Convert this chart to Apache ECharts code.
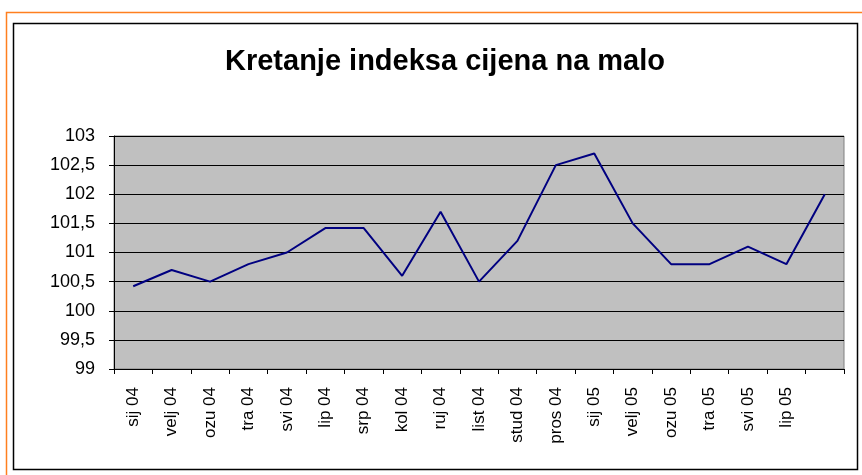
<!DOCTYPE html>
<html>
<head>
<meta charset="utf-8">
<script src="https://cdn.jsdelivr.net/npm/echarts@6/dist/echarts.min.js"></script>
<style>
  html, body { margin: 0; padding: 0; background: #fff; }
  #main { width: 862px; height: 475px; }
</style>
</head>
<body>
<div id="main"></div>
<script>
// mjeseci (zadnji nema oznaku na originalu)
const months = ['sij 04', 'velj 04', 'ozu 04', 'tra 04', 'svi 04', 'lip 04', 'srp 04', 'kol 04', 'ruj 04', 'list 04',
  'stud 04', 'pros 04', 'sij 05', 'velj 05', 'ozu 05', 'tra 05', 'svi 05', 'lip 05', '']
const indexValues = [100.42, 100.7, 100.5, 100.8, 101.0, 101.42, 101.42, 100.6, 101.7, 100.5,
  101.2, 102.5, 102.7, 101.5, 100.8, 100.8, 101.1, 100.8, 102.0]
const titleText = 'Kretanje indeksa cijena na malo'

const chart = echarts.init(document.getElementById('main'))
const font = 'Liberation Sans, Arial, sans-serif'

chart.setOption({
  animation: false,
  title: {
    text: titleText,
    left: 440,
    textAlign: 'center',
    top: 42,
    textStyle: { fontFamily: font, fontSize: 29, fontWeight: 'bold', color: '#000' }
  },
  graphic: [
    { type: 'rect', shape: { x: 6.5, y: 12.5, width: 870, height: 480 }, style: { fill: 'none', stroke: '#ff7f1f', lineWidth: 1.5 } },
    { type: 'rect', shape: { x: 13.5, y: 23.5, width: 844, height: 446 }, style: { fill: 'none', stroke: '#000', lineWidth: 1.5 } }
  ],
  grid: {
    left: 114, top: 136, right: 18, bottom: 106,
    show: true, backgroundColor: '#c0c0c0', borderColor: '#808080', borderWidth: 1
  },
  xAxis: {
    type: 'category',
    data: months,
    boundaryGap: true,
    axisLine: { lineStyle: { color: '#000', width: 1 } },
    axisTick: { show: true, length: 5, lineStyle: { color: '#000' } },
    axisLabel: {
      rotate: 90, interval: 0, margin: 18,
      fontFamily: font, fontSize: 17, color: '#000'
    },
    splitLine: { show: false }
  },
  yAxis: {
    type: 'value',
    min: 99, max: 103, interval: 0.5,
    axisLine: { show: true, lineStyle: { color: '#000', width: 1 } },
    axisTick: { show: true, length: 5, lineStyle: { color: '#000' } },
    axisLabel: {
      fontFamily: font, fontSize: 18, color: '#000', margin: 19,
      formatter: v => String(v).replace('.', ',')
    },
    splitLine: { show: true, lineStyle: { color: '#000', width: 1 } }
  },
  series: [{
    type: 'line',
    data: indexValues,
    symbol: 'none',
    lineStyle: { color: '#000080', width: 2 }
  }]
})
</script>
</body>
</html>
